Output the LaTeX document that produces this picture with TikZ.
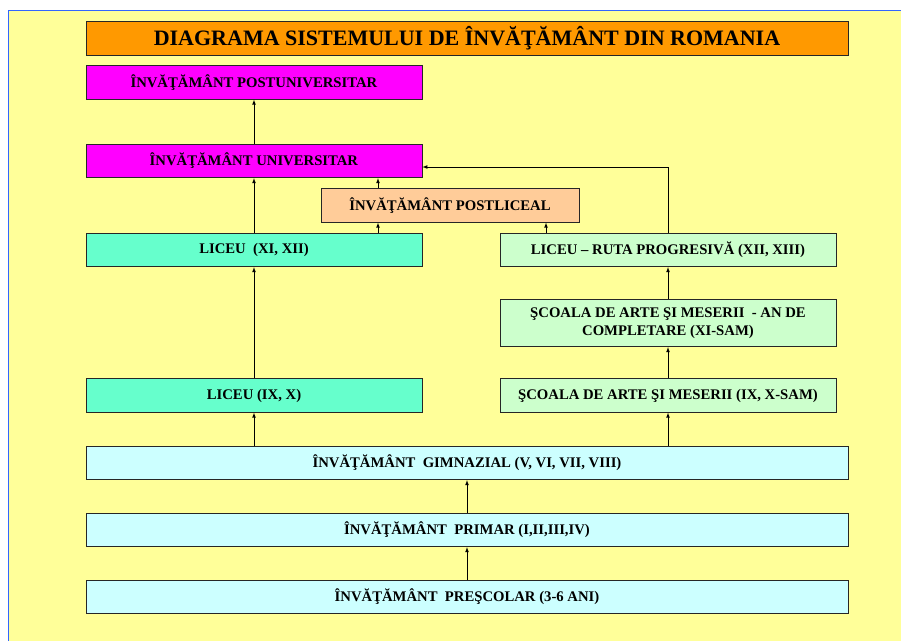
\documentclass[tikz,border=0pt]{standalone}
\usepackage{fontspec}
\setmainfont{Liberation Serif}
\usetikzlibrary{positioning}
\definecolor{fundal}{RGB}{255,255,153}
\definecolor{chenar}{RGB}{51,102,255}
\definecolor{portocaliu}{RGB}{255,153,0}
\definecolor{mov}{RGB}{255,0,255}
\definecolor{piersica}{RGB}{255,204,153}
\definecolor{turcoaz}{RGB}{102,255,204}
\definecolor{verdepal}{RGB}{204,255,204}
\definecolor{cerdeschis}{RGB}{204,255,255}
\newcommand{\textnivel}[1]{\textbf{#1}}
\tikzset{
  nivel/.style={draw=black!85, line width=0.8pt, minimum height=33.5pt, align=center, inner sep=2pt, font=\fontsize{14.7}{18}\selectfont},
  ingust/.style={nivel, minimum width=336pt},
  lat/.style={nivel, minimum width=762pt},
  sageata/.style={->, >=latex, line width=0.7pt}
}

\begin{document}
\begin{tikzpicture}[x=1pt,y=-1pt]
\useasboundingbox (0,0) rectangle (901,641);
\fill[fundal] (8,10) rectangle (901,641);
\draw[chenar, line width=1pt] (8,641) -- (8,10) -- (901,10);
%the boxes of the diagram
\node [lat, fill=portocaliu, minimum height=34pt, font=\fontsize{22}{24}\selectfont] (titlu) at (467,38) {\textnivel{DIAGRAMA SISTEMULUI DE ÎNVĂŢĂMÂNT DIN ROMANIA}};
\node [ingust, fill=mov] (postuniv) at (254,82.5) {\textnivel{ÎNVĂŢĂMÂNT POSTUNIVERSITAR}};
\node [ingust, fill=mov, below=44.2pt of postuniv] (univ) {\textnivel{ÎNVĂŢĂMÂNT UNIVERSITAR}};
\node [ingust, fill=turcoaz, below=54.7pt of univ] (liceusup) {\textnivel{LICEU \ (XI, XII)}};
\node [ingust, fill=turcoaz, below=111.2pt of liceusup] (liceuinf) {\textnivel{LICEU (IX, X)}};
\node [nivel, fill=piersica, minimum width=258pt] (postliceal) at (450,205.5) {\textnivel{ÎNVĂŢĂMÂNT POSTLICEAL}};
\node [ingust, fill=verdepal, right=77.2pt of liceusup] (progresiv) {\textnivel{LICEU – RUTA PROGRESIVĂ (XII, XIII)}};
\node [ingust, fill=verdepal, minimum height=47pt, below=32.2pt of progresiv] (samcompl) {\textnivel{ŞCOALA DE ARTE ŞI MESERII \ - AN DE}\\\textnivel{COMPLETARE (XI-SAM)}};
\node [ingust, fill=verdepal, below=31.2pt of samcompl] (saminf) {\textnivel{ŞCOALA DE ARTE ŞI MESERII (IX, X-SAM)}};
\node [lat, fill=cerdeschis, below=33.2pt of liceuinf.south west, anchor=north west] (gimnazial) {\textnivel{ÎNVĂŢĂMÂNT \ GIMNAZIAL (V, VI, VII, VIII)}};
\node [lat, fill=cerdeschis, below=32.7pt of gimnazial] (primar) {\textnivel{ÎNVĂŢĂMÂNT \ PRIMAR (I,II,III,IV)}};
\node [lat, fill=cerdeschis, below=32.7pt of primar] (prescolar) {\textnivel{ÎNVĂŢĂMÂNT \ PREŞCOLAR (3-6 ANI)}};
%points where the arrows meet the boxes
\coordinate (pl1) at ([xshift=-72pt]postliceal.south);
\coordinate (pl2) at ([xshift=96pt]postliceal.south);
\coordinate (u1) at ([yshift=-6pt]univ.east);
%drawings of the arrows
\draw[sageata] (univ.north) -- (postuniv.south);

\draw[sageata] (liceusup.north) -- (univ.south);

\draw[sageata] (pl1 |- postliceal.north) -- (pl1 |- univ.south);

\draw[sageata] (pl1 |- liceusup.north) -- (pl1);

\draw[sageata] (pl2 |- progresiv.north) -- (pl2);

\draw[sageata] (progresiv.north) |- (u1);

\draw[sageata] (liceuinf.north) -- (liceusup.south);

\draw[sageata] (samcompl.north) -- (progresiv.south);

\draw[sageata] (saminf.north) -- (samcompl.south);

\draw[sageata] (liceuinf.south |- gimnazial.north) -- (liceuinf.south);

\draw[sageata] (saminf.south |- gimnazial.north) -- (saminf.south);

\draw[sageata] (primar.north) -- (gimnazial.south);

\draw[sageata] (prescolar.north) -- (primar.south);

\end{tikzpicture}
\end{document}
